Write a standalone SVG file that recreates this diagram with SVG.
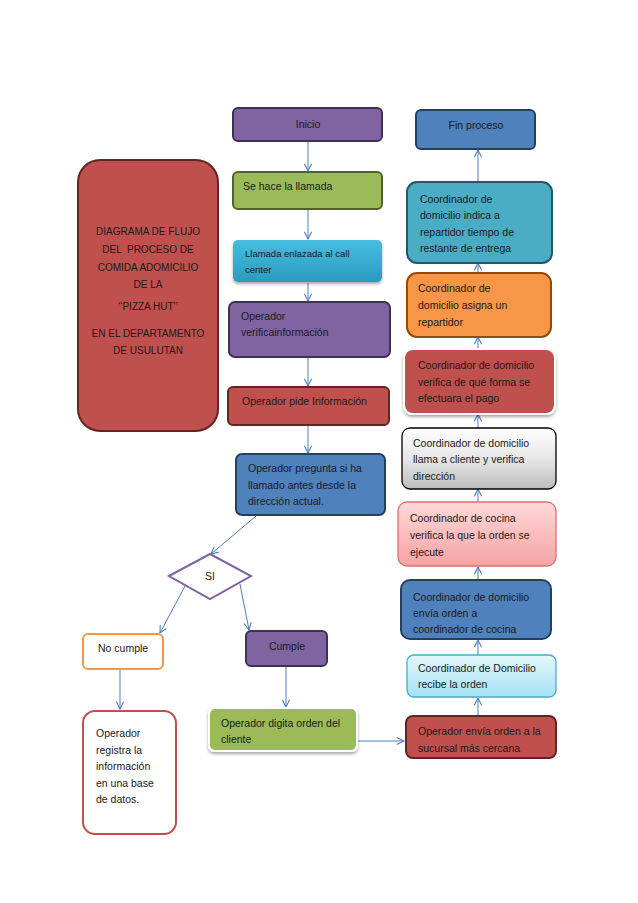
<svg xmlns="http://www.w3.org/2000/svg" width="638" height="903" viewBox="0 0 638 903">
<style>
text{font-family:"Liberation Sans",Arial,sans-serif;font-size:10.5px;fill:#1a1a1a}
.c{text-anchor:middle}
.t{font-size:10px}
.s{font-size:9.5px}
.purple{fill:#8064A2;stroke:#3F3151;stroke-width:2}
.green{fill:#9BBB59;stroke:#4F6228;stroke-width:2}
.red{fill:#C0504D;stroke:#632523;stroke-width:2}
.blue{fill:#4F81BD;stroke:#243F60;stroke-width:2}
.teal{fill:#4BACC6;stroke:#215968;stroke-width:2}
.orange{fill:#F79646;stroke:#984807;stroke-width:2}
.conn line{stroke:#4A7EBB;stroke-width:1;marker-end:url(#arr)}
</style>
<defs>
<marker id="arr" viewBox="0 0 10 10" refX="9" refY="5" markerWidth="9" markerHeight="9" markerUnits="userSpaceOnUse" orient="auto">
<path d="M1,1 L9,5 L1,9" fill="none" stroke="#4A7EBB" stroke-width="1.2"/>
</marker>
<linearGradient id="gCyan" x1="0" y1="0" x2="0" y2="1"><stop offset="0" stop-color="#45BEE0"/><stop offset="1" stop-color="#2A9BC0"/></linearGradient>
<linearGradient id="gGray" x1="0" y1="0" x2="0" y2="1"><stop offset="0" stop-color="#FFFFFF"/><stop offset="0.5" stop-color="#E6E6E6"/><stop offset="1" stop-color="#BDBDBD"/></linearGradient>
<linearGradient id="gPink" x1="0" y1="0" x2="0" y2="1"><stop offset="0" stop-color="#FFD8D8"/><stop offset="1" stop-color="#F5A3A3"/></linearGradient>
<linearGradient id="gLight" x1="0" y1="0" x2="0" y2="1"><stop offset="0" stop-color="#E4F7FC"/><stop offset="1" stop-color="#A4E2F3"/></linearGradient>
<filter id="sh" x="-10%" y="-10%" width="120%" height="130%"><feDropShadow dx="0" dy="2" stdDeviation="1.5" flood-color="#000" flood-opacity="0.35"/></filter>
</defs>
<rect width="638" height="903" fill="#fff"/>

<g class="conn">
<line x1="308" y1="142" x2="308" y2="171"/>
<line x1="308" y1="210" x2="308" y2="239"/>
<line x1="308" y1="283" x2="308" y2="301"/>
<line x1="308" y1="358" x2="308" y2="386"/>
<line x1="308" y1="426" x2="308" y2="453"/>
<line x1="256" y1="516" x2="211" y2="554"/>
<line x1="185" y1="586" x2="160" y2="633"/>
<line x1="240" y1="584" x2="249" y2="630"/>
<line x1="120" y1="670" x2="120" y2="709"/>
<line x1="286" y1="667" x2="286" y2="707"/>
<line x1="349" y1="741" x2="404" y2="741"/>
<line x1="478" y1="715" x2="478" y2="698"/>
<line x1="478" y1="655" x2="478" y2="640"/>
<line x1="478" y1="580" x2="478" y2="567"/>
<line x1="478" y1="502" x2="478" y2="489"/>
<line x1="478" y1="428" x2="478" y2="414"/>
<line x1="478" y1="350" x2="478" y2="337"/>
<line x1="478" y1="273" x2="478" y2="263"/>
<line x1="478" y1="182" x2="478" y2="150"/>
</g>

<g id="titulo">
<rect x="78" y="160" width="140" height="271" rx="22" class="red"/>
<text class="c t" x="148" y="235">DIAGRAMA DE FLUJO</text>
<text class="c t" x="148" y="253" xml:space="preserve">DEL  PROCESO DE</text>
<text class="c t" x="148" y="271">COMIDA ADOMICILIO</text>
<text class="c t" x="148" y="288">DE LA</text>
<text class="c t" x="148" y="310">‘‘PIZZA HUT’’</text>
<text class="c t" x="148" y="337">EN EL DEPARTAMENTO</text>
<text class="c t" x="148" y="354">DE USULUTAN</text>
</g>

<g id="inicio">
<rect x="233" y="108" width="149" height="33" rx="5" class="purple"/>
<text class="c" x="308" y="128">Inicio</text>
</g>
<g id="llamada">
<rect x="233" y="172" width="149" height="37" rx="5" class="green"/>
<text x="243" y="190">Se hace la llamada</text>
</g>
<g id="enlazada">
<rect x="233" y="240" width="149" height="42" rx="5" fill="url(#gCyan)" filter="url(#sh)"/>
<text class="s" x="245" y="257">Llamada enlazada al call</text>
<text class="s" x="245" y="273">center</text>
</g>
<g id="verifica">
<rect x="229" y="302" width="161" height="55" rx="6" class="purple"/>
<text x="241" y="320">Operador</text>
<text x="241" y="336">verificainformación</text>
</g>
<g id="pide">
<rect x="228" y="387" width="161" height="38" rx="5" class="red"/>
<text x="242" y="405">Operador pide Información</text>
</g>
<g id="pregunta">
<rect x="236" y="454" width="149" height="61" rx="6" class="blue"/>
<text x="248" y="472">Operador pregunta si ha</text>
<text x="248" y="489">llamado antes desde la</text>
<text x="248" y="505">dirección actual.</text>
</g>
<g id="si">
<polygon points="169,576 210,554 251,576 210,599" fill="#fff" stroke="#8064A2" stroke-width="2"/>
<text class="c" x="210" y="580">SI</text>
</g>
<g id="nocumple">
<rect x="83" y="634" width="80" height="35" rx="5" fill="#fff" stroke="#F79646" stroke-width="2"/>
<text x="98" y="652">No cumple</text>
</g>
<g id="cumple">
<rect x="246" y="631" width="81" height="35" rx="5" class="purple"/>
<text class="c" x="287" y="650">Cumple</text>
</g>
<g id="registra">
<rect x="83" y="711" width="93" height="123" rx="12" fill="#fff" stroke="#C0504D" stroke-width="2"/>
<text x="96" y="737">Operador</text>
<text x="96" y="754">registra la</text>
<text x="96" y="770">información</text>
<text x="96" y="787">en una base</text>
<text x="96" y="803">de datos.</text>
</g>
<g id="digita">
<rect x="208" y="707" width="150" height="45" rx="6" fill="#fff" filter="url(#sh)"/>
<rect x="210" y="709" width="146" height="41" rx="5" fill="#9BBB59"/>
<text x="221" y="727">Operador digita orden del</text>
<text x="221" y="743">cliente</text>
</g>

<g id="fin">
<rect x="416" y="110" width="119" height="39" rx="5" class="blue"/>
<text class="c" x="476" y="129">Fin proceso</text>
</g>
<g id="indica">
<rect x="407" y="182" width="145" height="81" rx="10" class="teal"/>
<text x="420" y="203">Coordinador de</text>
<text x="420" y="219">domicilio indica a</text>
<text x="420" y="236">repartidor tiempo de</text>
<text x="420" y="252">restante de entrega</text>
</g>
<g id="asigna">
<rect x="407" y="273" width="144" height="64" rx="10" class="orange"/>
<text x="418" y="292">Coordinador de</text>
<text x="418" y="309">domicilio asigna un</text>
<text x="418" y="326">repartidor</text>
</g>
<g id="pago">
<rect x="403" y="348" width="153" height="67" rx="9" fill="#fff" filter="url(#sh)"/>
<rect x="405" y="350" width="149" height="63" rx="8" fill="#C0504D"/>
<text x="418" y="369">Coordinador de domicilio</text>
<text x="418" y="386">verifica de qué forma se</text>
<text x="418" y="402">efectuara el pago</text>
</g>
<g id="cliente">
<rect x="402" y="428" width="154" height="61" rx="8" fill="url(#gGray)" stroke="#000" stroke-width="1.3"/>
<text x="413" y="447">Coordinador de domicilio</text>
<text x="413" y="463">llama a cliente y verifica</text>
<text x="413" y="480">dirección</text>
</g>
<g id="cocina">
<rect x="398" y="502" width="158" height="64" rx="9" fill="url(#gPink)" stroke="#E07070" stroke-width="1.3"/>
<text x="410" y="522">Coordinador de cocina</text>
<text x="410" y="539">verifica la que la orden se</text>
<text x="410" y="556">ejecute</text>
</g>
<g id="envia-coord">
<rect x="401" y="580" width="150" height="59" rx="9" class="blue"/>
<text x="413" y="601">Coordinador de domicilio</text>
<text x="413" y="617">envía orden a</text>
<text x="413" y="633">coordinador de cocina</text>
</g>
<g id="recibe">
<rect x="407" y="655" width="149" height="42" rx="7" fill="url(#gLight)" stroke="#4BACC6" stroke-width="1.3"/>
<text x="418" y="672">Coordinador de Domicilio</text>
<text x="418" y="688">recibe la orden</text>
</g>
<g id="sucursal">
<rect x="406" y="716" width="150" height="42" rx="7" class="red"/>
<text x="418" y="735">Operador envía orden a la</text>
<text x="418" y="752">sucursal más cercana</text>
</g>
</svg>
